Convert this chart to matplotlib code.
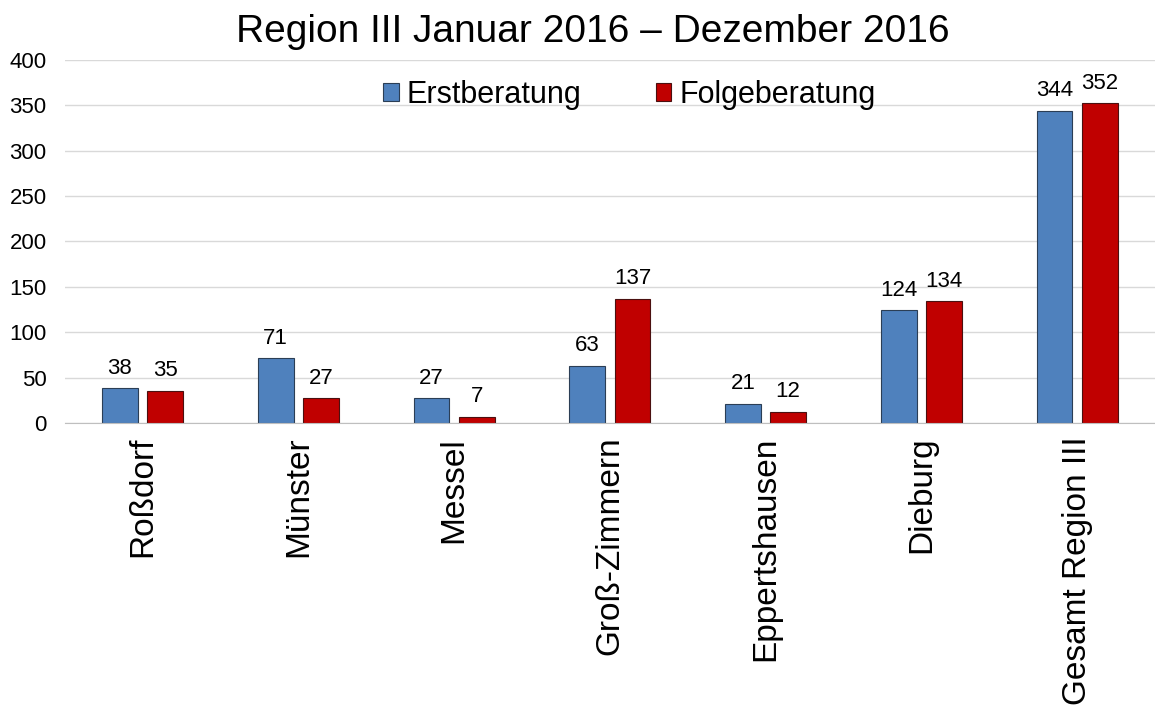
import matplotlib
matplotlib.use("Agg")
import matplotlib.pyplot as plt
import numpy as np

plt.rcParams['font.family'] = ['Liberation Sans', 'DejaVu Sans']

categories = ["Roßdorf", "Münster", "Messel", "Groß-Zimmern", "Eppertshausen", "Dieburg", "Gesamt Region III"]
erst = [38, 71, 27, 63, 21, 124, 344]
folge = [35, 27, 7, 137, 12, 134, 352]
yticks = [0, 50, 100, 150, 200, 250, 300, 350, 400]

fig = plt.figure(figsize=(11.55, 7.12), dpi=100)
ax = fig.add_axes([0.056, 0.406, 0.944, 0.51])

x = np.arange(len(categories))
w = 0.23
off = 0.145
b1 = ax.bar(x - off, erst, w, color="#4F81BD", edgecolor="#2B3E55", linewidth=0.8, label="Erstberatung", zorder=3)
b2 = ax.bar(x + off, folge, w, color="#C00000", edgecolor="#4A1010", linewidth=0.8, label="Folgeberatung", zorder=3)

for bars in (b1, b2):
    for r in bars:
        ax.annotate(f"{int(r.get_height())}", (r.get_x() + r.get_width() / 2, r.get_height()),
                    xytext=(0, 7), textcoords="offset points", ha="center", va="bottom", fontsize=16)

ax.set_xlim(-0.5, len(categories) - 0.5)
ax.set_ylim(0, 400)
ax.set_yticks(yticks)
ax.set_yticklabels([str(t) for t in yticks], fontsize=16)
ax.set_xticks(x)
ax.set_xticklabels(categories, rotation=90, fontsize=24)
ax.tick_params(length=0)
ax.tick_params(axis='x', pad=10)
ax.tick_params(axis='y', pad=13)
ax.grid(axis='y', color="#D9D9D9", linewidth=1, zorder=0)
for s in ["top", "right", "left"]:
    ax.spines[s].set_visible(False)
ax.spines["bottom"].set_color("#BFBFBF")
ax.spines["bottom"].set_zorder(4)

ax.legend(loc="center", bbox_to_anchor=(0.518, 0.904), ncol=2, frameon=False, fontsize=22,
          handlelength=0.5, handleheight=0.5, handletextpad=0.26, columnspacing=2.45,
          borderpad=0, borderaxespad=0)

fig.text(0.513, 0.955, "Region III Januar 2016 – Dezember 2016", fontsize=28, ha="center", va="center")

fig.savefig("out.png", dpi=100)
